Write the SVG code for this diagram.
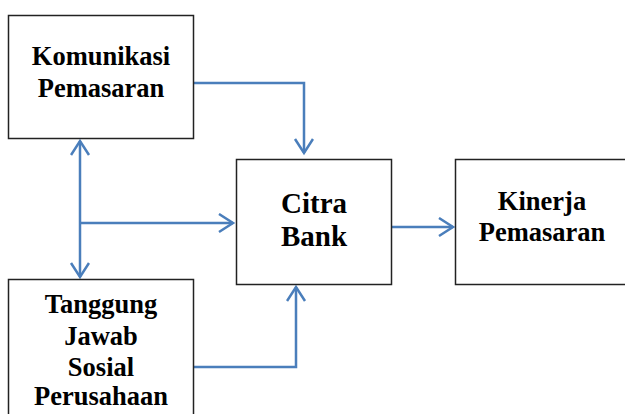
<svg xmlns="http://www.w3.org/2000/svg" width="625" height="414" viewBox="0 0 625 414">
<style>
.box{fill:#fff;stroke:#222;stroke-width:1.5}
.t{font-family:"Liberation Serif","Times New Roman",serif;font-weight:bold;font-size:26.5px;fill:#000;text-anchor:middle}
.tb{font-size:29px}
.c{fill:none;stroke:#4a7ebb;stroke-width:2.5}
</style>
<defs>
<marker id="ah" markerWidth="24" markerHeight="24" refX="15" refY="10" orient="auto" markerUnits="userSpaceOnUse">
<path d="M1,1 L15,10 L1,19" fill="none" stroke="#4a7ebb" stroke-width="2.5"/>
</marker>
<marker id="as" markerWidth="24" markerHeight="24" refX="15" refY="10" orient="auto-start-reverse" markerUnits="userSpaceOnUse">
<path d="M1,1 L15,10 L1,19" fill="none" stroke="#4a7ebb" stroke-width="2.5"/>
</marker>
</defs>
<g id="connectors">
<path class="c" d="M194,83 H304 V153" marker-end="url(#ah)"/>
<path class="c" d="M80,141 V277" marker-start="url(#as)" marker-end="url(#ah)"/>
<path class="c" d="M80,223 H233" marker-end="url(#ah)"/>
<path class="c" d="M194,367 H296 V287" marker-end="url(#ah)"/>
<path class="c" d="M392,227 H453" marker-end="url(#ah)"/>
</g>
<g id="komunikasi">
<rect class="box" x="8.5" y="15.5" width="185" height="123"/>
<text class="t" x="101" y="65">Komunikasi</text>
<text class="t" x="101" y="97">Pemasaran</text>
</g>
<g id="tanggung">
<rect class="box" x="8.5" y="279.5" width="185" height="150"/>
<text class="t" x="101" y="313">Tanggung</text>
<text class="t" x="101" y="345">Jawab</text>
<text class="t" x="101" y="376">Sosial</text>
<text class="t" x="101" y="405">Perusahaan</text>
</g>
<g id="citra">
<rect class="box" x="236.5" y="159.5" width="155" height="125"/>
<text class="t tb" x="314" y="213">Citra</text>
<text class="t tb" x="314" y="246">Bank</text>
</g>
<g id="kinerja">
<rect class="box" x="455.5" y="159.5" width="175" height="125"/>
<text class="t" x="542" y="210">Kinerja</text>
<text class="t" x="542" y="241">Pemasaran</text>
</g>
</svg>
